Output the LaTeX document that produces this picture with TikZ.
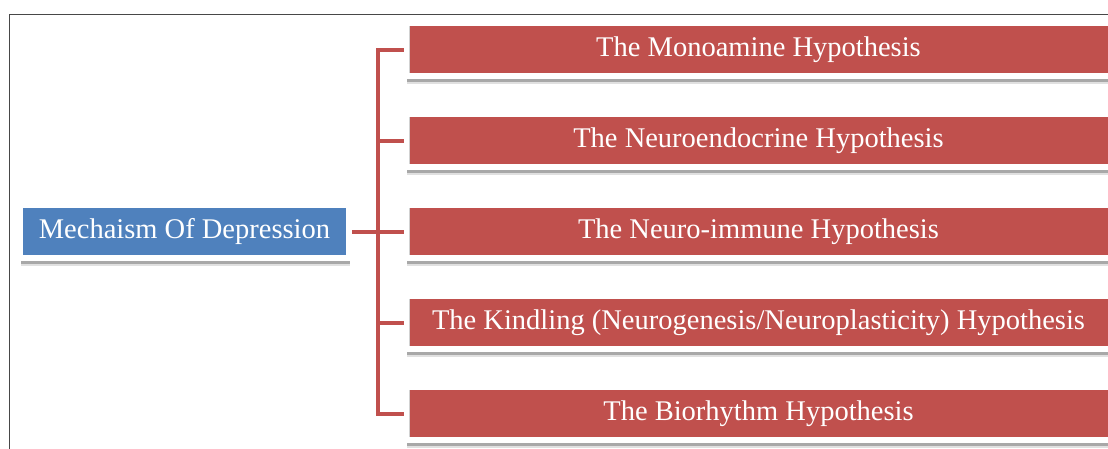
\documentclass[tikz,border=0pt]{standalone}
\usepackage{fontspec}
\setmainfont{Liberation Serif}
\usepackage{tikz}
\usetikzlibrary{calc,shadows,backgrounds}
\definecolor{boxred}{HTML}{C0504D}
\definecolor{boxblue}{HTML}{4F81BD}

\begin{document}
\begin{tikzpicture}[x=1pt, y=-1pt, % 1pt = 1px, y downward
  box/.style={draw=black!18, double=white, double distance=5.2pt, line width=0.4pt, text=white,
    inner sep=0pt, minimum height=53pt, font=\fontsize{28.5}{34}\selectfont,
    drop shadow={shadow xshift=0.5pt, shadow yshift=-8pt, opacity=0.12, fill=black},
    drop shadow={shadow xshift=0.5pt, shadow yshift=-5.5pt, opacity=0.25, fill=black}}, % white frame + soft shadow
  hyp/.style={box, fill=boxred, minimum width=704pt}, % red boxes
  link/.style={boxred, line width=4pt}] % connectors
  \useasboundingbox (0,0) rectangle (1108,448);
  \draw[line width=1.5pt, black!72] (9.5,14.5) rectangle (1130,470); % outer frame

  \node[box, fill=boxblue, minimum width=329pt] (root) at (184.5,231.5) {Mechaism Of Depression}; % root
  \node[hyp] (h1) at (758.5,49.5) {The Monoamine Hypothesis};
  \node[hyp] (h2) at (758.5,140.5) {The Neuroendocrine Hypothesis};
  \node[hyp] (h3) at (758.5,231.5) {The Neuro-immune Hypothesis};
  \node[hyp] (h4) at (758.5,322.5) {The Kindling (Neurogenesis/Neuroplasticity) Hypothesis};
  \node[hyp] (h5) at (758.5,413.5) {The Biorhythm Hypothesis};

  \coordinate (trunk) at (378,231.5); % branching point
  \begin{scope}[on background layer]
    \draw[link] (root.east) -- (trunk);
    \draw[link] (trunk) |- (h1.west);
    \draw[link] (trunk) |- (h2.west);
    \draw[link] (trunk) -- (h3.west);
    \draw[link] (trunk) |- (h4.west);
    \draw[link] (trunk) |- (h5.west);
  \end{scope}
\end{tikzpicture}
\end{document}
